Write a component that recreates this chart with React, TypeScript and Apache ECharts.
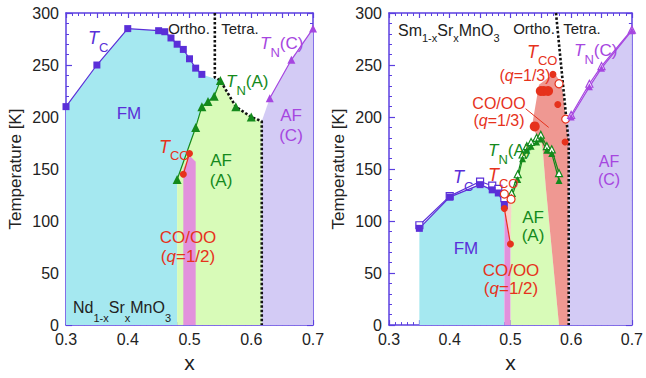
import React, { useEffect, useRef } from 'react';
import * as echarts from 'echarts';

// ---------- Left panel: Nd1-xSrxMnO3 ----------
const ND_TC = [[0.30, 210], [0.35, 250], [0.40, 285], [0.45, 283], [0.46, 282], [0.47, 276], [0.48, 270], [0.49, 265], [0.50, 256], [0.51, 247], [0.52, 241]];
const ND_TNA = [[0.48, 140], [0.51, 190], [0.52, 210], [0.53, 215], [0.54, 220], [0.55, 235]];
const ND_TNA_ON_BOUNDARY = [[0.575, 210], [0.60, 200]];
const ND_TCO = [[0.49, 145], [0.50, 165]];
const ND_TNC = [[0.63, 218], [0.665, 255], [0.70, 285]];
const ND_STRUCT = [[0.541, 300], [0.541, 238], [0.55, 235], [0.575, 210], [0.60, 200], [0.617, 196], [0.617, 0]];
const ND_COOO_TOP = [[0.49, 150], [0.50, 163], [0.51, 157]];

// ---------- Right panel: Sm1-xSrxMnO3 ----------
const SM_TC_FILLED = [[0.35, 93], [0.40, 123], [0.45, 135], [0.47, 130], [0.48, 127], [0.49, 115]];
const SM_TC_OPEN = [[0.35, 96], [0.40, 124], [0.45, 138], [0.47, 134], [0.48, 131], [0.49, 122]];
const SM_TNA_FILLED = [[0.502, 123], [0.512, 140], [0.52, 160], [0.527, 168], [0.534, 172], [0.543, 176], [0.55, 179], [0.56, 168], [0.568, 165], [0.58, 139]];
const SM_TNA_OPEN = [[0.502, 127], [0.512, 145], [0.52, 164], [0.527, 172], [0.534, 176], [0.543, 180], [0.55, 183], [0.56, 172], [0.568, 169], [0.58, 146]];
const SM_TCO_HALF = [[0.49, 112], [0.50, 78]];
const SM_TCO_HALF_OPEN = [[0.49, 126], [0.501, 121]];
const SM_TCO_THIRD_BIG = [[0.54, 191], [0.55, 225], [0.555, 225], [0.562, 225]];
const SM_TCO_THIRD = [[0.57, 241], [0.578, 212], [0.59, 176]];
const SM_TCO_THIRD_OPEN = [[0.58, 232], [0.591, 198]];
const SM_TNC_FILLED = [[0.60, 200], [0.63, 229], [0.65, 247], [0.70, 283]];
const SM_TNC_OPEN = [[0.60, 202], [0.63, 232], [0.65, 249], [0.70, 284]];
const SM_STRUCT = [[0.575, 300], [0.596, 175], [0.596, 0]];
const SM_POINTER = [[0.525, 208], [0.563, 190]];
const SM_AFA_RIGHT_EDGE = [[0.553, 170], [0.558, 134], [0.58, 0]];
const SM_CO13_LEFT_EDGE = [[0.543, 182], [0.536, 193], [0.547, 231], [0.572, 242], [0.58, 236], [0.586, 225]];

const X_TICKS = [0.3, 0.4, 0.5, 0.6, 0.7];

// regions built from the arrays above
const ND_FM = [[0.30, 0], ...ND_TC, ...ND_TNA.slice().reverse(), [0.48, 0]];
const ND_AFA = [[0.48, 0], ...ND_TNA, ...ND_TNA_ON_BOUNDARY, [0.617, 196], [0.617, 0]];
const ND_PINK = [[0.49, 0], ...ND_COOO_TOP, [0.51, 0]];
const ND_AFC = [[0.617, 0], [0.617, 196], ...ND_TNC, [0.70, 0]];

const SM_FM = [[0.35, 0], ...SM_TC_FILLED, [0.49, 0]];
const SM_PINK = [[0.49, 0], ...SM_TCO_HALF, [0.50, 0]];
const SM_HATCH = [[0.49, 112], [0.49, 126], [0.502, 123], [0.50, 78]];
const SM_AFA = [[0.50, 0], [0.50, 78], ...SM_TNA_FILLED.slice(0, 7), ...SM_AFA_RIGHT_EDGE];
const SM_CO13 = [[0.58, 0], [0.558, 134], [0.553, 170], [0.55, 179], ...SM_CO13_LEFT_EDGE, [0.596, 175], [0.596, 0]];
const SM_AFC = [[0.596, 0], [0.596, 175], [0.592, 200], ...SM_TNC_FILLED, [0.70, 0]];

const FONT = '"Liberation Sans", Arial, Helvetica, sans-serif';
const AXIS = '#5b3fe0';
const BLUE = '#5a2fd8';
const GREEN = '#148a1c';
const RED = '#e6321c';
const PURPLE = '#a646e0';
const CYAN = '#a5e8f0';
const LGREEN = '#d8fbb8';
const PINK = '#e291dc';
const LAV = '#d3cbf5';
const SALMON = '#ef9892';
const INK = '#222';

function xAx(gi: number, position: string, show: boolean, nameGap: number) {
  return {
    type: 'value', gridIndex: gi, position, min: 0.3, max: 0.7, interval: 0.05,
    axisLine: { show: true, onZero: false, lineStyle: { color: AXIS, width: 1.5 } },
    axisTick: { show: true, inside: true, length: 5, lineStyle: { color: AXIS, width: 1.2 } },
    minorTick: { show: true, splitNumber: 5, length: 3, lineStyle: { color: AXIS, width: 1 } },
    splitLine: { show: false },
    axisLabel: {
      show,
      color: INK, fontSize: 16, margin: 6, fontFamily: FONT,
      formatter: (v: number) => (X_TICKS.some((t) => Math.abs(t - v) < 1e-6) ? v.toFixed(1) : ''),
    },
    name: show ? 'x' : '', nameLocation: 'middle', nameGap,
    nameTextStyle: { fontSize: 21, color: INK, fontFamily: FONT },
  };
}
function yAx(gi: number, position: string, show: boolean) {
  return {
    type: 'value', gridIndex: gi, position, min: 0, max: 300, interval: 50,
    axisLine: { show: true, onZero: false, lineStyle: { color: AXIS, width: 1.5 } },
    axisTick: { show: true, inside: true, length: 6, lineStyle: { color: AXIS, width: 1.2 } },
    minorTick: { show: true, splitNumber: 5, length: 3, lineStyle: { color: AXIS, width: 1 } },
    splitLine: { show: false },
    axisLabel: { show, color: INK, fontSize: 16, margin: 7, fontFamily: FONT },
    name: show ? 'Temperature [K]' : '', nameLocation: 'middle', nameGap: 42,
    nameTextStyle: { fontSize: 17, color: INK, fontFamily: FONT },
  };
}

function region(points: number[][], fill: string, ai: number, z = 1) {
  return {
    type: 'custom', coordinateSystem: 'cartesian2d', xAxisIndex: ai, yAxisIndex: ai, silent: true, z,
    data: [[0.5, 100]],
    renderItem: (_p: any, api: any) => ({
      type: 'polygon',
      shape: { points: points.map((p) => api.coord(p)) },
      style: { fill, stroke: null },
    }),
  };
}

function line(data: number[][], color: string, ai: number, o: any = {}) {
  return {
    type: 'line', xAxisIndex: ai, yAxisIndex: ai, data, z: o.z ?? 5, silent: true,
    symbol: o.symbol ?? 'none', symbolSize: o.size ?? 8,
    showSymbol: o.symbol ? true : false,
    lineStyle: o.noLine ? { width: 0, opacity: 0 } : { color: o.lineColor ?? color, width: o.width ?? 1.2, type: o.dash ?? 'solid' },
    itemStyle: o.open
      ? { color: '#fff', borderColor: color, borderWidth: 1.2 }
      : { color, borderColor: color, borderWidth: 0 },
  };
}

function dotted(data: number[][], ai: number) {
  return line(data, '#111', ai, { width: 2.6, dash: [2.5, 2], z: 4 });
}

function tText(x: number, y: number, parts: string, color: string, subPad = 12, size = 18) {
  return {
    type: 'text', x, y, z: 100, silent: true,
    style: {
      text: parts, align: 'left', verticalAlign: 'top', fill: color, fontFamily: FONT,
      rich: {
        t: { fontStyle: 'italic', fontSize: size, fill: color, fontFamily: FONT, verticalAlign: 'top' },
        n: { fontSize: size, fill: color, fontFamily: FONT, verticalAlign: 'top' },
        s: { fontSize: 13, fill: color, fontFamily: FONT, verticalAlign: 'top', padding: [subPad, 0, 0, 0] },
      },
    },
  };
}

function formula(x: number, y: number, parts: string, subPad: number, size: number) {
  return {
    type: 'text', x, y, z: 100, silent: true,
    style: {
      text: parts, align: 'left', verticalAlign: 'top', fill: INK, fontFamily: FONT,
      rich: {
        n: { fontSize: size, fill: INK, fontFamily: FONT, verticalAlign: 'top' },
        s: { fontSize: 11, fill: INK, fontFamily: FONT, verticalAlign: 'top', padding: [subPad, 0, 0, 0] },
      },
    },
  };
}

function label(x: number, y: number, text: string, color: string, size = 16, lh = 20) {
  return {
    type: 'text', x, y, z: 100, silent: true,
    style: {
      text, align: 'center', verticalAlign: 'middle', fill: color, fontSize: size, lineHeight: lh, fontFamily: FONT,
      rich: {
        i: { fontStyle: 'italic', fontSize: size, fill: color, fontFamily: FONT, lineHeight: lh },
        r: { fontSize: size, fill: color, fontFamily: FONT, lineHeight: lh },
      },
    },
  };
}

export default function App() {
  const ref = useRef<HTMLDivElement>(null);
  useEffect(() => {
    if (!ref.current) return;
    const chart = echarts.init(ref.current, undefined, { renderer: 'svg' });
    const option: any = {
      animation: false,
      backgroundColor: '#fff',
      textStyle: { fontFamily: FONT },
      grid: [
        { left: 66, top: 13, width: 247, height: 320 },
        { left: 389, top: 13, width: 247, height: 320 },
      ],
      xAxis: [xAx(0, 'bottom', true, 20), xAx(1, 'bottom', true, 25), xAx(0, 'top', false, 0), xAx(1, 'top', false, 0)],
      yAxis: [yAx(0, 'left', true), yAx(1, 'left', true), yAx(0, 'right', false), yAx(1, 'right', false)],
      series: [
        // left regions
        region(ND_FM, CYAN, 0),
        region(ND_AFA, LGREEN, 0),
        region(ND_PINK, PINK, 0, 2),
        region(ND_AFC, LAV, 0),
        dotted(ND_STRUCT, 0),
        line(ND_TC, BLUE, 0, { symbol: 'rect', size: 7 }),
        line(ND_TNA, GREEN, 0, { symbol: 'triangle', size: 9 }),
        line(ND_TNA_ON_BOUNDARY, GREEN, 0, { symbol: 'triangle', size: 9, noLine: true }),
        line(ND_TCO, RED, 0, { symbol: 'circle', size: 7 }),
        line(ND_TNC, PURPLE, 0, { symbol: 'triangle', size: 8 }),
        // right regions
        region(SM_FM, CYAN, 1),
        region(SM_AFA, LGREEN, 1),
        region(SM_CO13, SALMON, 1),
        region(SM_PINK, PINK, 1, 2),
        region(SM_HATCH, 'rgba(240,120,100,0.35)', 1, 2),
        region(SM_AFC, LAV, 1),
        dotted(SM_STRUCT, 1),
        line(SM_TC_OPEN, BLUE, 1, { symbol: 'rect', size: 7, open: true }),
        line(SM_TC_FILLED, BLUE, 1, { symbol: 'rect', size: 7 }),
        line(SM_TNA_OPEN, GREEN, 1, { symbol: 'triangle', size: 7, open: true }),
        line(SM_TNA_FILLED, GREEN, 1, { symbol: 'triangle', size: 7 }),
        line(SM_TCO_HALF, RED, 1, { symbol: 'circle', size: 7 }),
        line(SM_TCO_HALF_OPEN, RED, 1, { symbol: 'circle', size: 8, open: true, noLine: true }),
        line(SM_TCO_THIRD_BIG, RED, 1, { symbol: 'circle', size: 10, noLine: true }),
        line(SM_TCO_THIRD, RED, 1, { symbol: 'circle', size: 7, noLine: true }),
        line(SM_TCO_THIRD_OPEN, RED, 1, { symbol: 'circle', size: 8, open: true, noLine: true }),
        line(SM_TNC_OPEN, PURPLE, 1, { symbol: 'triangle', size: 7, open: true }),
        line(SM_TNC_FILLED, PURPLE, 1, { symbol: 'triangle', size: 7 }),
        line(SM_POINTER, RED, 1, { width: 1 }),
      ],
      graphic: [
        // left panel labels
        tText(88, 29, '{t|T}{s|C}', BLUE, 12),
        label(189, 28, 'Ortho.', INK, 15),
        label(240, 28, 'Tetra.', INK, 15),
        tText(260, 35, '{t|T}{s|N}{n|(C)}', PURPLE, 11, 17),
        tText(226, 73, '{t|T}{s|N}{n|(A)}', GREEN, 11, 17),
        label(129, 113, 'FM', BLUE, 17),
        label(221, 170, 'AF\n(A)', GREEN, 17, 20),
        label(291, 125, 'AF\n(C)', PURPLE, 17, 20),
        tText(159, 138, '{t|T}{s|CO}', RED, 11),
        label(188, 247, '{r|CO/OO}\n{r|(}{i|q}{r|=1/2)}', RED, 17, 19),
        formula(73, 299, '{n|Nd}{s|1-x}{n|Sr}{s|x}{n|MnO}{s|3}', 13, 16),
        // right panel labels
        formula(398, 22, '{n|Sm}{s|1-x}{n|Sr}{s|x}{n|MnO}{s|3}', 10, 16),
        label(534, 28, 'Ortho.', INK, 15),
        label(582, 28, 'Tetra.', INK, 15),
        tText(527, 43, '{t|T}{s|CO}', RED, 11),
        label(525, 75, '{r|(}{i|q}{r|=1/3)}', RED, 16),
        label(499, 112, '{r|CO/OO}\n{r|(}{i|q}{r|=1/3)}', RED, 16, 17),
        tText(488, 142, '{t|T}{s|N}{n|(A)}', GREEN, 11, 17),
        tText(488, 166, '{t|T}{s|CO}', RED, 11),
        tText(453, 168, '{t|T}{s|C}', BLUE, 12),
        tText(574, 42, '{t|T}{s|N}{n|(C)}', PURPLE, 11, 17),
        label(466, 248, 'FM', BLUE, 17),
        label(533, 226, 'AF\n(A)', GREEN, 17, 18),
        label(511, 279, '{r|CO/OO}\n{r|(}{i|q}{r|=1/2)}', RED, 17, 18),
        label(609, 170, 'AF\n(C)', PURPLE, 16, 18),
      ],
    };
    chart.setOption(option);
    return () => chart.dispose();
  }, []);
  return <div ref={ref} style={{ position: 'absolute', left: 0, top: 0, width: 646, height: 378 }} />;
}
